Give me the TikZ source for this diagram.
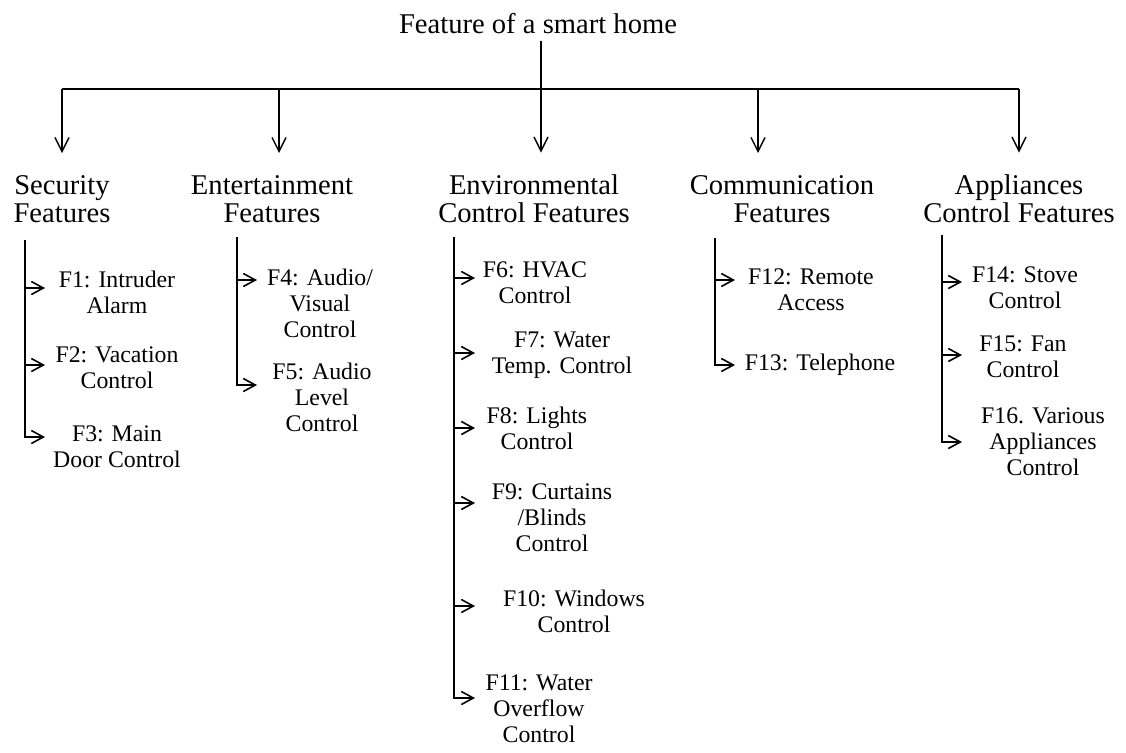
\documentclass[tikz,border=0pt]{standalone}
\usepackage{fontspec}
\setmainfont{Liberation Serif}
\usetikzlibrary{arrows.meta}

\begin{document}
\begin{tikzpicture}[
  x=0.5pt,y=-0.5pt,
  head/.style={align=center, inner sep=0pt, font=\fontsize{14.3}{14}\selectfont},
  cat/.style={align=center, inner sep=0pt, font=\fontsize{14.3}{14}\selectfont},
  item/.style={align=center, inner sep=0pt, font=\fontsize{11.9}{13}\selectfont},
  top/.style={line width=0.7pt, -{Straight Barb[length=7pt,width=7pt]}, shorten >=11pt},
  sub/.style={line width=0.8pt, -{Straight Barb[length=6pt,width=6.5pt]}}
]
\useasboundingbox (0,0) rectangle (1126,752);

% root and first level
\node[head] (title) at (538,24) {Feature of a smart home};
\coordinate (b1) at (62,89);
\coordinate (b2) at (279,89);
\coordinate (hub) at (541,89);
\coordinate (b4) at (758,89);
\coordinate (b5) at (1019,89);

\node[cat] (sec) at (62,199) {Security\\Features};
\node[cat] (ent) at (272,199) {Entertainment\\Features};
\node[cat] (env) at (534,199) {Environmental\\Control Features};
\node[cat] (com) at (782,199) {Communication\\Features};
\node[cat] (app) at (1019,199) {Appliances\\Control Features};

\draw[line width=0.7pt] (title.south -| hub) ++(0,6) -- (hub);
\draw[line width=0.9pt] (b1) -- (b5);
\draw[top] (b1) -- (b1 |- sec.north);
\draw[top] (b2) -- (b2 |- ent.north);
\draw[top] (hub) -- (hub |- env.north);
\draw[top] (b4) -- (b4 |- com.north);
\draw[top] (b5) -- (b5 |- app.north);

% column lines and tips
\coordinate (secl) at (25,240);  \coordinate (sect) at (45,0);
\coordinate (entl) at (237,237); \coordinate (entt) at (257,0);
\coordinate (envl) at (454,237); \coordinate (envt) at (475,0);
\coordinate (coml) at (715,238); \coordinate (comt) at (735,0);
\coordinate (appl) at (942,235); \coordinate (appt) at (962,0);

% security
\node[item] (f1) at (117,292) {F1: Intruder\\Alarm};
\node[item] (f2) at (117,368) {F2: Vacation\\Control};
\node[item] (f3) at (117,447) {F3: Main\\Door Control};
\draw[sub] ([yshift=2pt]f1.west -| secl) -- ([yshift=2pt]f1.west -| sect);
\draw[sub] ([yshift=1.5pt]f2.west -| secl) -- ([yshift=1.5pt]f2.west -| sect);
\draw[sub] (secl) |- ([yshift=5pt]f3.west -| sect);

% entertainment
\node[item] (f4) at (320,303) {F4: Audio/\\Visual\\Control};
\node[item] (f5) at (322,397) {F5: Audio\\Level\\Control};
\draw[sub] ([yshift=11.5pt]f4.west -| entl) -- ([yshift=11.5pt]f4.west -| entt);
\draw[sub] (entl) |- ([yshift=6pt]f5.west -| entt);

% environmental
\node[item] (f6) at (535,283) {F6: HVAC\\Control};
\node[item] (f7) at (562,355) {F7: Water\\Temp. Control};
\node[item] (f8) at (537,428) {F8: Lights\\Control};
\node[item] (f9) at (552,518) {F9: Curtains\\/Blinds\\Control};
\node[item] (f10) at (574,611) {F10: Windows\\Control};
\node[item] (f11) at (539,709) {F11: Water\\Overflow\\Control};
\draw[sub] ([yshift=2.5pt]f6.west -| envl) -- ([yshift=2.5pt]f6.west -| envt);
\draw[sub] ([yshift=1pt]f7.west -| envl) -- ([yshift=1pt]f7.west -| envt);
\draw[sub] (f8.west -| envl) -- (f8.west -| envt);
\draw[sub] ([yshift=7.5pt]f9.west -| envl) -- ([yshift=7.5pt]f9.west -| envt);
\draw[sub] ([yshift=2.5pt]f10.west -| envl) -- ([yshift=2.5pt]f10.west -| envt);
\draw[sub] (envl) |- ([yshift=5.5pt]f11.west -| envt);

% communication
\node[item] (f12) at (811,290) {F12: Remote\\Access};
\node[item] (f13) at (820,365) {F13: Telephone};
\draw[sub] ([yshift=5pt]f12.west -| coml) -- ([yshift=5pt]f12.west -| comt);
\draw[sub] (coml) |- (f13.west -| comt);

% appliances
\node[item] (f14) at (1025,288) {F14: Stove\\Control};
\node[item] (f15) at (1023,357) {F15: Fan\\Control};
\node[item] (f16) at (1043,442) {F16. Various\\Appliances\\Control};
\draw[sub] ([yshift=3pt]f14.west -| appl) -- ([yshift=3pt]f14.west -| appt);
\draw[sub] ([yshift=1pt]f15.west -| appl) -- ([yshift=1pt]f15.west -| appt);
\draw[sub] (appl) |- (f16.west -| appt);
\end{tikzpicture}
\end{document}
